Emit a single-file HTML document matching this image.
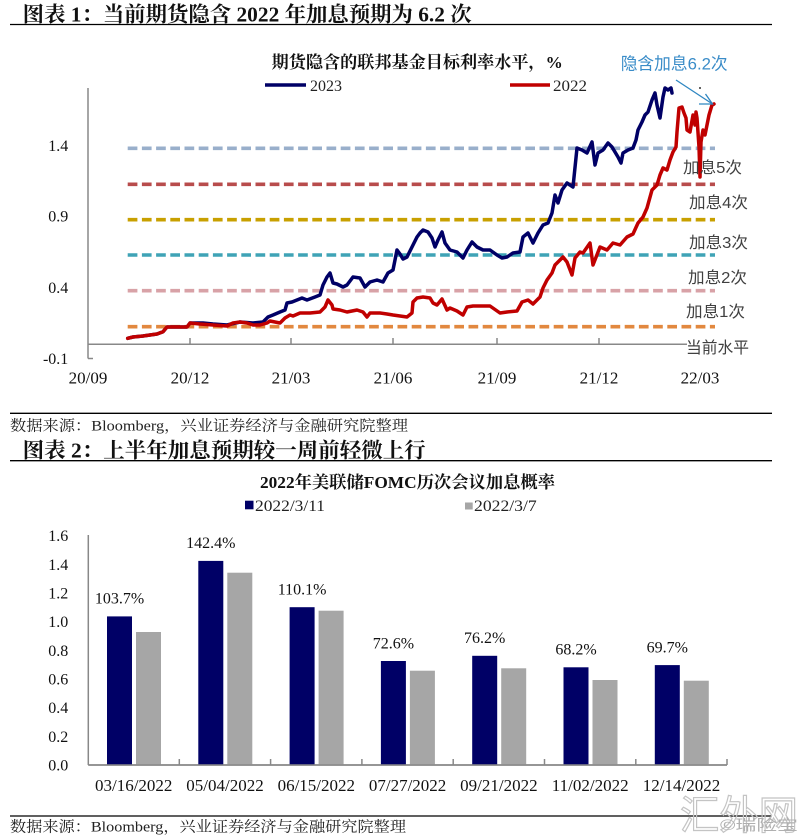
<!DOCTYPE html>
<html><head><meta charset="utf-8"><style>
html,body{margin:0;padding:0;background:#fff;}
svg{display:block;}
.se{font-family:"Liberation Serif","Noto Serif CJK SC",serif;}
.sa{font-family:"Liberation Sans","Noto Sans CJK SC",sans-serif;}
</style></head><body>
<svg width="807" height="839" viewBox="0 0 807 839" xmlns="http://www.w3.org/2000/svg">
<rect width="807" height="839" fill="#fff"/>

<!-- Header 1 -->
<text class="se" x="22.7" y="21.5" font-size="21" font-weight="bold" fill="#111" textLength="449" lengthAdjust="spacingAndGlyphs">图表 1：当前期货隐含 2022 年加息预期为 6.2 次</text>
<line x1="10" y1="24.5" x2="772" y2="24.5" stroke="#000" stroke-width="1.3"/>

<!-- Chart 1 title & legend -->
<text class="se" x="271.7" y="68" font-size="17" font-weight="bold" fill="#111" textLength="291" lengthAdjust="spacingAndGlyphs">期货隐含的联邦基金目标利率水平，%</text>
<text class="sa" x="620.7" y="69.5" font-size="17" fill="#3A8CC8" textLength="107" lengthAdjust="spacingAndGlyphs">隐含加息6.2次</text>
<line x1="265" y1="85" x2="306" y2="85" stroke="#000066" stroke-width="3.5"/>
<text class="se" x="310" y="91" font-size="16" fill="#222" textLength="32" lengthAdjust="spacingAndGlyphs">2023</text>
<line x1="510" y1="85" x2="550" y2="85" stroke="#C00000" stroke-width="3.5"/>
<text class="se" x="553" y="91" font-size="16" fill="#222" textLength="34" lengthAdjust="spacingAndGlyphs">2022</text>

<!-- Chart 1 axes -->
<line x1="88" y1="88" x2="88" y2="358.5" stroke="#888" stroke-width="1.5"/>
<line x1="88" y1="358.5" x2="93" y2="358.5" stroke="#888" stroke-width="1.5"/>
<line x1="88" y1="344.3" x2="687" y2="344.3" stroke="#888" stroke-width="1.5"/>
<g stroke="#888" stroke-width="1.5">
<line x1="190" y1="338" x2="190" y2="344.3"/>
<line x1="291" y1="338" x2="291" y2="344.3"/>
<line x1="393" y1="338" x2="393" y2="344.3"/>
<line x1="497" y1="338" x2="497" y2="344.3"/>
<line x1="599" y1="338" x2="599" y2="344.3"/>
</g>
<g class="se" font-size="16" fill="#111" text-anchor="end">
<text x="68.3" y="151.2">1.4</text>
<text x="68.3" y="221.5">0.9</text>
<text x="68.3" y="292.8">0.4</text>
<text x="68.3" y="363.8">-0.1</text>
</g>
<g class="se" font-size="17" fill="#111" text-anchor="middle">
<text x="88" y="383.6">20/09</text>
<text x="190" y="383.6">20/12</text>
<text x="291" y="383.6">21/03</text>
<text x="393" y="383.6">21/06</text>
<text x="497" y="383.6">21/09</text>
<text x="599" y="383.6">21/12</text>
<text x="700" y="383.6">22/03</text>
</g>

<!-- Dashed levels -->
<g stroke-width="3.6" stroke-dasharray="9.7 4.5" fill="none">
<line x1="127.7" y1="148.3" x2="715" y2="148.3" stroke="#99AFCB"/>
<line x1="127.7" y1="184.3" x2="715" y2="184.3" stroke="#B84C4C"/>
<line x1="127.7" y1="219.7" x2="715" y2="219.7" stroke="#C8A000"/>
<line x1="127.7" y1="255" x2="715" y2="255" stroke="#3FA3B6"/>
<line x1="127.7" y1="290.7" x2="715" y2="290.7" stroke="#D8A2A7"/>
<line x1="127.7" y1="326.7" x2="715" y2="326.7" stroke="#E2883F"/>
</g>

<!-- Series -->
<polyline fill="none" stroke="#000066" stroke-width="3.5" stroke-linejoin="round" stroke-linecap="round" points="127.7,338.3 133,337 143,336 150,335 157,334 163,331.7 167,327 173,327 187,327 190,323 200,323 203,323 213,324 227,325 240,322 253,323 263,322 268,317 273,315 280,312 285,310 287,303 292,302 297,300 302,298 307,300 315,297 320,295 323,285 327,277 330,273 333,283 337,284 343,287 347,285 353,277 360,278 365,287 370,282 377,280 383,282 388,273 393,270 397,250 400,254 403,259 407,257 412,247 417,237 420,233 423,230 428,232 432,238 435,247 438,240 442,232 445,243 450,250 457,252 463,258 467,250 472,242 477,247 483,250 490,250 497,255 502,258 507,257 513,253 520,252 523,237 528,233 533,243 538,233 543,225 548,223 552,213 555,195 558,203 562,190 567,183 573,187 577,148 582,150 587,153 592,142 595,165 598,153 603,150 608,143 612,147 615,152 618,157 621,163 623,153 628,150 633,148 636,140 638,130 642,122 645,115 648,112 652,100 655,93 657,105 660,118 663,97 665,88 668,90 671,88 672,93"/>
<polyline fill="none" stroke="#C00000" stroke-width="3.5" stroke-linejoin="round" stroke-linecap="round" points="127.7,338.3 133,337 143,336 150,335 157,334 163,331.7 167,327 173,327 187,327 190,323 200,324 213,325 227,326 233,323 240,322 247,323 253,325 260,325 267,323 270,321 280,323 285,318 290,315 293,316 300,313 310,313 320,312 325,307 328,300 332,305 333,309 340,310 347,312 357,310 363,312 367,317 370,313 380,313 387,314 393,315 400,316 407,317 412,313 413,302 417,298 423,297 430,298 433,303 437,305 442,299 447,310 450,308 457,311 463,315 467,307 473,306 490,306 500,313 507,312 517,311 522,302 528,300 533,304 540,297 543,288 547,280 552,273 555,265 558,262 563,257 567,262 572,275 575,258 580,252 583,253 590,243 593,265 600,247 607,250 613,243 620,245 627,237 633,234 638,223 643,217 647,208 652,190 657,185 660,175 663,168 667,170 670,160 673,152 676,147 677,132 679,108 682,107 684,113 686,118 687,130 690,132 693,115 695,125 696,112 697,118 699,147 700,177 701,142 703,130 705,135 707,125 709,115 712,105 714,104"/>

<!-- Arrow -->
<line x1="676" y1="80" x2="712.5" y2="104" stroke="#2E86C1" stroke-width="1.3"/>
<polyline points="699,104 712.5,104 705.5,94" fill="none" stroke="#2E86C1" stroke-width="1.3"/>
<circle cx="700" cy="88" r="1" fill="#333"/>

<!-- Right labels -->
<g class="sa" font-size="16" fill="#404040">
<text x="683" y="173" textLength="59" lengthAdjust="spacingAndGlyphs">加息5次</text>
<text x="689" y="208" textLength="59" lengthAdjust="spacingAndGlyphs">加息4次</text>
<text x="689" y="248" textLength="59" lengthAdjust="spacingAndGlyphs">加息3次</text>
<text x="688" y="283" textLength="59" lengthAdjust="spacingAndGlyphs">加息2次</text>
<text x="686" y="317" textLength="59" lengthAdjust="spacingAndGlyphs">加息1次</text>
<text x="686" y="353" textLength="63" lengthAdjust="spacingAndGlyphs">当前水平</text>
</g>

<!-- Source 1 / header 2 -->
<line x1="10" y1="413.3" x2="772" y2="413.3" stroke="#000" stroke-width="1.3"/>
<text class="se" x="10" y="430.5" font-size="15" fill="#222" textLength="398" lengthAdjust="spacingAndGlyphs">数据来源：Bloomberg，兴业证券经济与金融研究院整理</text>
<text class="se" x="22.7" y="457.5" font-size="21" font-weight="bold" fill="#111" textLength="403" lengthAdjust="spacingAndGlyphs">图表 2：上半年加息预期较一周前轻微上行</text>
<line x1="10" y1="460.7" x2="772" y2="460.7" stroke="#000" stroke-width="1.3"/>

<!-- Chart 2 title & legend -->
<text class="se" x="260" y="488" font-size="17" font-weight="bold" fill="#111" textLength="295" lengthAdjust="spacingAndGlyphs">2022年美联储FOMC历次会议加息概率</text>
<rect x="245" y="500.7" width="8.5" height="8.6" fill="#000066"/>
<text class="se" x="255" y="511.2" font-size="16" fill="#222" textLength="70" lengthAdjust="spacingAndGlyphs">2022/3/11</text>
<rect x="465" y="502.5" width="7.7" height="7" fill="#A6A6A6"/>
<text class="se" x="474" y="511.2" font-size="16" fill="#222" textLength="62.7" lengthAdjust="spacingAndGlyphs">2022/3/7</text>

<!-- Chart 2 axes -->
<line x1="88.3" y1="535" x2="88.3" y2="765" stroke="#888" stroke-width="1.5"/>
<line x1="88.3" y1="765" x2="727" y2="765" stroke="#888" stroke-width="1.5"/>
<g stroke="#888" stroke-width="1.5">
<line x1="179.3" y1="759" x2="179.3" y2="765"/>
<line x1="270.6" y1="759" x2="270.6" y2="765"/>
<line x1="361.9" y1="759" x2="361.9" y2="765"/>
<line x1="453.2" y1="759" x2="453.2" y2="765"/>
<line x1="544.5" y1="759" x2="544.5" y2="765"/>
<line x1="635.8" y1="759" x2="635.8" y2="765"/>
<line x1="727" y1="759" x2="727" y2="765"/>
</g>
<g class="se" font-size="16" fill="#111" text-anchor="end">
<text x="68.3" y="770.5">0.0</text>
<text x="68.3" y="741.8">0.2</text>
<text x="68.3" y="713.2">0.4</text>
<text x="68.3" y="684.5">0.6</text>
<text x="68.3" y="655.9">0.8</text>
<text x="68.3" y="627.2">1.0</text>
<text x="68.3" y="598.5">1.2</text>
<text x="68.3" y="569.9">1.4</text>
<text x="68.3" y="541.2">1.6</text>
</g>

<!-- Bars -->
<g fill="#000066">
<rect x="107" y="616.4" width="25" height="148.6"/>
<rect x="198.3" y="560.9" width="25" height="204.1"/>
<rect x="289.6" y="607.2" width="25" height="157.8"/>
<rect x="380.9" y="661" width="25" height="104"/>
<rect x="472.2" y="655.8" width="25" height="109.2"/>
<rect x="563.5" y="667.3" width="25" height="97.7"/>
<rect x="654.8" y="665.1" width="25" height="99.9"/>
</g>
<g fill="#A6A6A6">
<rect x="136" y="632" width="25" height="133"/>
<rect x="227.3" y="572.7" width="25" height="192.3"/>
<rect x="318.6" y="610.7" width="25" height="154.3"/>
<rect x="409.9" y="670.7" width="25" height="94.3"/>
<rect x="501.2" y="668.3" width="25" height="96.7"/>
<rect x="592.5" y="680" width="25" height="85"/>
<rect x="683.8" y="680.7" width="25" height="84.3"/>
</g>
<line x1="88.3" y1="765" x2="727" y2="765" stroke="#888" stroke-width="1.5"/>

<!-- Data labels -->
<g class="se" font-size="16" fill="#111" text-anchor="middle">
<text x="119.5" y="603.7">103.7%</text>
<text x="210.8" y="548.2">142.4%</text>
<text x="302.1" y="594.5">110.1%</text>
<text x="393.4" y="648.3">72.6%</text>
<text x="484.7" y="643.1">76.2%</text>
<text x="576" y="654.6">68.2%</text>
<text x="667.3" y="652.4">69.7%</text>
</g>

<!-- X labels chart 2 -->
<g class="se" font-size="17" fill="#111" text-anchor="middle">
<text x="133.7" y="791">03/16/2022</text>
<text x="225" y="791">05/04/2022</text>
<text x="316.3" y="791">06/15/2022</text>
<text x="407.6" y="791">07/27/2022</text>
<text x="498.9" y="791">09/21/2022</text>
<text x="590.2" y="791">11/02/2022</text>
<text x="681.5" y="791">12/14/2022</text>
</g>

<!-- Footer -->
<line x1="10" y1="816" x2="772" y2="816" stroke="#000" stroke-width="1.3"/>
<text class="se" x="10" y="831.5" font-size="15" fill="#222" textLength="396" lengthAdjust="spacingAndGlyphs">数据来源：Bloomberg，兴业证券经济与金融研究院整理</text>

<!-- Watermark -->
<text class="sa" x="680" y="829" font-size="40" fill="none" stroke="#c4c4c4" stroke-width="1.2" textLength="118" lengthAdjust="spacingAndGlyphs">汇外网</text>
<text class="sa" x="720" y="830" font-size="15" fill="#b0b0b0" textLength="78" lengthAdjust="spacingAndGlyphs">©瑞险宝</text>
</svg>
</body></html>
